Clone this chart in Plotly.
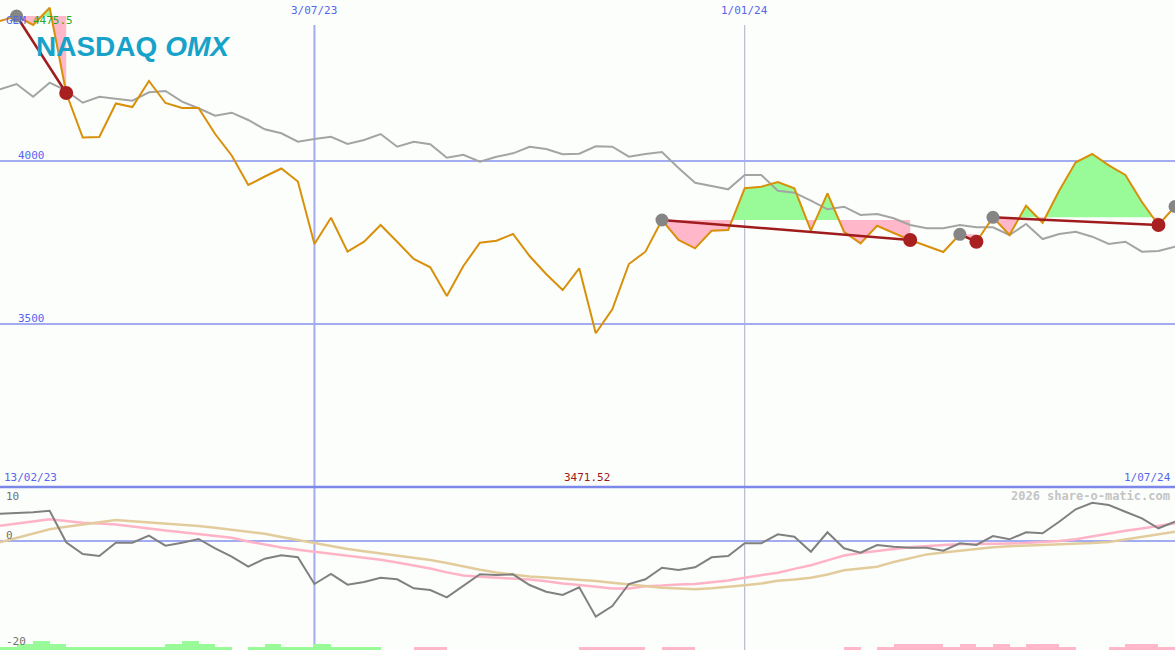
import numpy as np
import pandas as pd
import plotly.graph_objects as go

# ---------------- data ----------------
dates = pd.date_range("2023-02-20", periods=72, freq="7D")

price = [4429.4, 4444.8, 4417.2, 4470.0, 4208.6, 4072.1, 4073.6, 4176.4, 4165.6, 4245.4,
         4177.9, 4162.6, 4162.6, 4082.8, 4016.9, 3926.4, 3952.5, 3977.0, 3937.1, 3745.4,
         3826.1, 3721.8, 3752.5, 3803.7, 3752.5, 3699.4, 3673.9, 3585.9, 3677.9, 3749.4,
         3755.5, 3776.1, 3708.6, 3653.4, 3604.3, 3670.9, 3471.5, 3545.1, 3684.0, 3721.8,
         3819.0, 3757.7, 3732.2, 3786.2, 3788.3, 3916.3, 3921.2, 3935.6, 3916.3, 3786.2,
         3900.9, 3783.1, 3747.5, 3801.5, 3779.1, 3757.7, 3739.3, 3720.9, 3775.2, 3752.5,
         3827.3, 3773.0, 3862.9, 3810.7, 3908.9, 3996.0, 4021.5, 3986.8, 3957.1, 3874.2,
         3803.7, 3860.4]

comparison = [4219.9, 4236.2, 4197.2, 4240.2, 4215.6, 4178.8, 4197.2, 4190.2, 4185.0, 4210.7,
              4214.7, 4181.9, 4161.7, 4139.0, 4148.2, 4125.8, 4097.2, 4085.0, 4059.2, 4067.5,
              4074.5, 4052.1, 4064.4, 4082.8, 4043.9, 4059.2, 4051.2, 4010.1, 4019.3, 3997.9,
              4013.2, 4023.6, 4043.9, 4036.8, 4020.6, 4022.4, 4045.1, 4043.9, 4013.2, 4021.5,
              4027.6, 3978.5, 3933.4, 3923.3, 3913.2, 3957.1, 3957.1, 3908.9, 3902.8, 3878.2,
              3851.8, 3859.8, 3834.4, 3837.4, 3824.2, 3803.7, 3793.6, 3793.6, 3803.7, 3796.6,
              3796.6, 3773.0, 3806.7, 3760.7, 3776.1, 3783.1, 3767.8, 3745.4, 3752.5, 3721.8,
              3723.9, 3737.1]

momentum = [5.46, 5.54, 5.74, 6.06, -0.26, -2.6, -3.0, -0.34, -0.34, 1.06,
            -0.94, -0.34, 0.4, -1.46, -3.14, -5.14, -3.54, -2.86, -3.26, -8.6,
            -6.6, -8.74, -8.2, -7.34, -7.66, -9.46, -9.8, -11.26, -8.94, -6.66,
            -6.8, -6.66, -8.8, -10.14, -10.8, -9.26, -15.14, -13.0, -8.6, -7.66,
            -5.34, -5.8, -5.26, -3.26, -3.0, -0.46, -0.46, 1.34, 0.86, -2.14,
            1.74, -1.46, -2.34, -0.8, -1.14, -1.34, -1.34, -1.94, -0.46, -0.8,
            1.0, 0.34, 1.74, 1.54, 3.86, 6.34, 7.66, 7.2, 5.86, 4.54,
            2.54, 3.86]

signal_fast = [3.06, 3.5, 3.9, 4.34, 4.0, 3.66, 3.5, 3.32, 2.9, 2.44,
               2.1, 1.74, 1.4, 1.04, 0.64, -0.1, -0.74, -1.32, -1.76, -2.16,
               -2.52, -2.9, -3.32, -3.76, -4.28, -4.9, -5.5, -6.28, -6.92, -7.14,
               -7.32, -7.52, -7.72, -8.04, -8.5, -8.8, -9.2, -9.52, -9.5, -9.04,
               -8.92, -8.68, -8.6, -8.22, -7.88, -7.34, -6.88, -6.34, -5.58, -4.84,
               -3.88, -2.9, -2.4, -1.96, -1.58, -1.24, -0.96, -0.8, -0.66, -0.64,
               -0.6, -0.52, -0.42, -0.24, 0.02, 0.36, 0.92, 1.56, 2.04, 2.52,
               2.96, 3.54]

signal_slow = [-0.26, 0.64, 1.5, 2.34, 2.84, 3.28, 3.68, 4.2, 3.96, 3.72,
               3.44, 3.3, 3.0, 2.66, 2.3, 1.8, 1.46, 0.8, 0.2, -0.4,
               -1.0, -1.6, -2.04, -2.46, -2.92, -3.32, -3.8, -4.4, -5.1, -5.74,
               -6.3, -6.72, -7.12, -7.3, -7.5, -7.66, -8.0, -8.34, -8.68, -9.04,
               -9.36, -9.5, -9.66, -9.44, -9.2, -8.84, -8.5, -7.94, -7.7, -7.34,
               -6.7, -5.86, -5.48, -5.14, -4.2, -3.48, -2.68, -2.32, -1.94, -1.6,
               -1.24, -1.04, -0.9, -0.78, -0.72, -0.62, -0.4, -0.18, 0.32, 0.94,
               1.4, 1.86]

# one value per week interval (71 intervals)
histogram = [1, 2, 3, 2, 1, 1, 1, 1, 1, 1,
             2, 3, 2, 1, 0, 1, 2, 1, 1, 2,
             1, 1, 1, 0, 0, -1, -1, 0, 0, 0,
             0, 0, 0, 0, 0, -1, -1, -1, -1, 0,
             -1, -1, 0, 0, 0, 0, 0, 0, 0, 0,
             0, -1, 0, -1, -2, -2, -2, -1, -2, -1,
             -2, -1, -2, -2, -1, 0, 0, -1, -2, -2,
             -1]

trend_segments = [(1, 4), (40, 55), (58, 59), (60, 70)]
open_trend_starts = [71]

top_tick_dates = ["2023-07-03", "2024-01-01"]
top_tick_text = ["3/07/23", "1/01/24"]
price_grid = [3500, 4000]
osc_labels = [10, 0, -20]
start_label = "13/02/23"
end_label = "1/07/24"
low_label = "3471.52"
code_label = "GEM"
high_label = "4475.5"

# ---------------- styling ----------------
BG = "#fcfefc"
GRID = "#a3acf0"
BLUE_TXT = "#5566ee"
GREEN = "#98fb98"
PINK = "#ffb7c9"
ORANGE = "#d8900a"
MONO = "DejaVu Sans Mono"

W, H = 1175, 650
lower_frac = 163 / H

fig = go.Figure()


def to_date(f):
    return dates[0] + pd.to_timedelta(np.asarray(f) * 7, unit="D")


# fills between price and the starting level of each trend segment
for s, e in trend_segments:
    level = price[s]
    xs, ys = [], []
    for k in range(s, e):
        p0, p1 = price[k], price[k + 1]
        xs.append(k)
        ys.append(p0)
        if (p0 - level) * (p1 - level) < 0:
            t = (level - p0) / (p1 - p0)
            xs.append(k + t)
            ys.append(level)
    xs.append(e)
    ys.append(price[e])
    xs = np.array(xs, dtype=float)
    ys = np.array(ys, dtype=float)
    xd = list(to_date(xs)) + list(to_date(xs[::-1]))
    up = list(np.maximum(ys, level)) + [level] * len(xs)
    dn = list(np.minimum(ys, level)) + [level] * len(xs)
    for yy, col in ((up, GREEN), (dn, PINK)):
        fig.add_trace(go.Scatter(x=xd, y=yy, fill="toself", fillcolor=col,
                                 mode="none", hoverinfo="skip", showlegend=False))

# comparison index
fig.add_trace(go.Scatter(x=dates, y=comparison, mode="lines",
                         line=dict(color="#a4a4a4", width=2), showlegend=False))
# price
fig.add_trace(go.Scatter(x=dates, y=price, mode="lines",
                         line=dict(color=ORANGE, width=2), showlegend=False))

# trend lines
for s, e in trend_segments:
    fig.add_trace(go.Scatter(x=[dates[s], dates[e]], y=[price[s], price[e]], mode="lines",
                             line=dict(color="#a01c1c", width=2.5), showlegend=False))

# start dots (gray) and end dots (red)
starts = [s for s, _ in trend_segments] + open_trend_starts
ends = [e for _, e in trend_segments]
fig.add_trace(go.Scatter(x=[dates[i] for i in starts], y=[price[i] for i in starts],
                         mode="markers", marker=dict(color="#858585", size=13),
                         showlegend=False))
fig.add_trace(go.Scatter(x=[dates[i] for i in ends], y=[price[i] for i in ends],
                         mode="markers", marker=dict(color="#a82020", size=14),
                         showlegend=False))

# ---------------- lower panel ----------------
mid = dates[:-1] + pd.Timedelta(days=3.5)
fig.add_trace(go.Bar(x=mid, y=[abs(v) for v in histogram],
                     marker=dict(color=[GREEN if v > 0 else PINK for v in histogram],
                                 line=dict(width=0)),
                     width=7 * 86400000, yaxis="y3", showlegend=False))

fig.add_trace(go.Scatter(x=dates, y=signal_fast, mode="lines", yaxis="y2",
                         line=dict(color="#ffb3c6", width=2.5), showlegend=False))
fig.add_trace(go.Scatter(x=dates, y=signal_slow, mode="lines", yaxis="y2",
                         line=dict(color="#e3cc9c", width=2.5), showlegend=False))
fig.add_trace(go.Scatter(x=dates, y=momentum, mode="lines", yaxis="y2",
                         line=dict(color="#808080", width=2), showlegend=False))

# ---------------- shapes ----------------
shapes = []
top_start = 1 - 25 / H
for d, col, wd in ((top_tick_dates[0], GRID, 2), (top_tick_dates[1], "#a9acc8", 1)):
    shapes.append(dict(type="line", xref="x", yref="paper", x0=d, x1=d,
                       y0=0, y1=top_start, line=dict(color=col, width=wd), layer="below"))
shapes.append(dict(type="line", xref="paper", yref="paper", x0=0, x1=1,
                   y0=lower_frac, y1=lower_frac, line=dict(color="#7b88ea", width=2.5)))

# ---------------- annotations ----------------
ann = []
for d, t in zip(top_tick_dates, top_tick_text):
    ann.append(dict(x=d, xref="x", y=1, yref="paper", text=t, showarrow=False,
                    xanchor="center", yanchor="top", yshift=-2,
                    font=dict(family=MONO, size=11, color=BLUE_TXT)))
for v in price_grid:
    ann.append(dict(x=16 / W, xref="paper", y=v, yref="y", text=str(v), showarrow=False,
                    xanchor="left", yanchor="middle", yshift=6,
                    font=dict(family=MONO, size=11, color=BLUE_TXT)))
ann.append(dict(x=2 / W, xref="paper", y=lower_frac, yref="paper", text=start_label,
                showarrow=False, xanchor="left", yanchor="bottom", yshift=1,
                font=dict(family=MONO, size=11, color=BLUE_TXT)))
ann.append(dict(x=1 - 2 / W, xref="paper", y=lower_frac, yref="paper", text=end_label,
                showarrow=False, xanchor="right", yanchor="bottom", yshift=1,
                font=dict(family=MONO, size=11, color=BLUE_TXT)))
ann.append(dict(x=587 / W, xref="paper", y=lower_frac, yref="paper", text=low_label,
                showarrow=False, xanchor="center", yanchor="bottom", yshift=1,
                font=dict(family=MONO, size=11, color="#a01818")))
osc_shift = {10: -5, 0: 6, -20: 0}
for v in osc_labels:
    ann.append(dict(x=4 / W, xref="paper", y=v, yref="y2", text=str(v), showarrow=False,
                    xanchor="left", yanchor="middle", yshift=osc_shift[v],
                    font=dict(family=MONO, size=11, color="#707070")))
ann.append(dict(x=1 - 3 / W, xref="paper", y=1 - 496 / H, yref="paper",
                text="<b>2026 share-o-matic.com</b>", showarrow=False,
                xanchor="right", yanchor="middle",
                font=dict(family=MONO, size=12, color="#c4c4c4")))
ann.append(dict(x=34 / W, xref="paper", y=1 - 46 / H, yref="paper",
                text="<b>NASDAQ <i>OMX</i></b>", showarrow=False,
                xanchor="left", yanchor="middle",
                font=dict(family="Liberation Sans", size=28, color="#16a2c9")))
ann.append(dict(x=4 / W, xref="paper", y=1 - 20 / H, yref="paper", text=code_label,
                showarrow=False, xanchor="left", yanchor="middle",
                font=dict(family=MONO, size=11, color=BLUE_TXT)))
ann.append(dict(x=31 / W, xref="paper", y=1 - 20 / H, yref="paper", text=high_label,
                showarrow=False, xanchor="left", yanchor="middle",
                font=dict(family=MONO, size=11, color="#22aa22")))

fig.update_layout(
    width=W, height=H,
    margin=dict(l=0, r=0, t=0, b=0),
    paper_bgcolor=BG, plot_bgcolor=BG,
    showlegend=False,
    bargap=0,
    xaxis=dict(range=[dates[0], dates[-1]], showgrid=False, zeroline=False,
               showticklabels=False, showline=False, ticks=""),
    yaxis=dict(domain=[lower_frac, 1], range=[3000, 4493.9], tickvals=price_grid,
               showgrid=True, gridcolor=GRID, gridwidth=2, zeroline=False,
               showticklabels=False, ticks=""),
    yaxis2=dict(domain=[0, lower_frac], range=[-21.8, 10.8], showgrid=False,
                zeroline=True, zerolinecolor=GRID, zerolinewidth=2,
                showticklabels=False, ticks=""),
    yaxis3=dict(overlaying="y2", range=[0, 163 / 3], showgrid=False, zeroline=False,
                showticklabels=False, ticks=""),
    shapes=shapes,
    annotations=ann,
)

fig.write_html("out.html", config={"displayModeBar": False},
               post_script="document.body.style.margin='0';document.body.style.overflow='hidden';")
